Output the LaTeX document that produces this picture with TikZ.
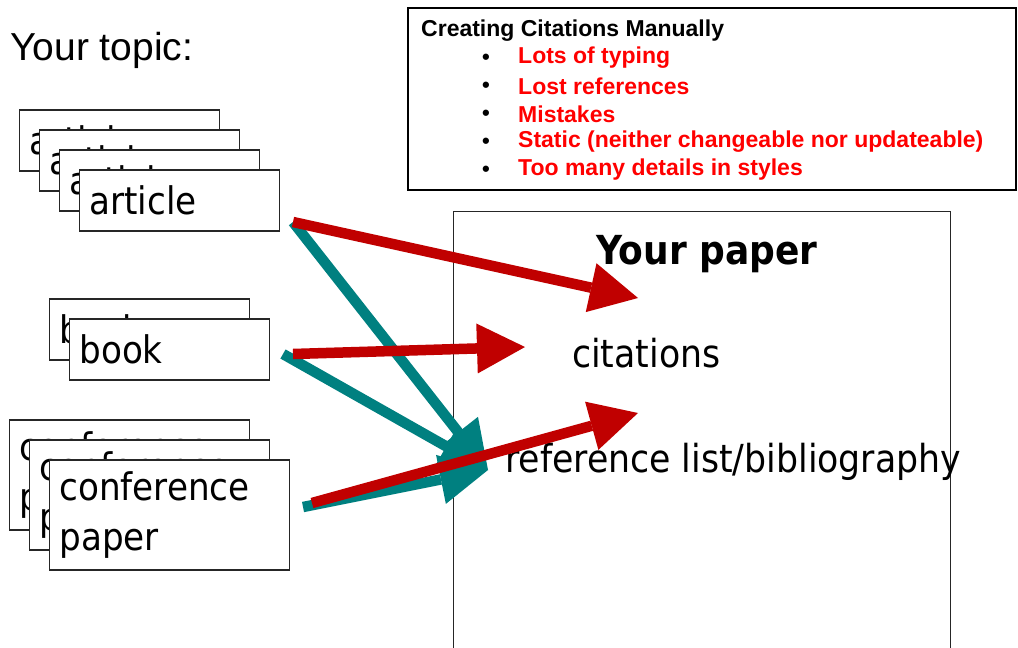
\documentclass[tikz,border=0pt]{standalone}
\usepackage{fontspec}
\setmainfont{Liberation Sans}
\newfontfamily\cardfont{DejaVu Sans Condensed}
\usetikzlibrary{arrows.meta}
\definecolor{arrowred}{RGB}{192,0,0}
\definecolor{arrowteal}{RGB}{0,128,128}
\definecolor{listred}{RGB}{255,0,0}

\tikzset{
  card/.style={draw=black!85, line width=1.2pt, fill=white, text width=180pt,
    minimum height=61pt, inner xsep=10pt, inner ysep=0pt, align=left,
    font=\cardfont\fontsize{38}{50}\selectfont},
  confcard/.style={card, text width=220pt, minimum height=110pt},
  redarrow/.style={draw=arrowred, line width=10.5pt,
    -{Triangle[length=48pt,width=50pt,line width=0pt]}},
  tealarrow/.style={draw=arrowteal, line width=10.5pt,
    -{Triangle[length=48pt,width=50pt,line width=0pt]}},
  bigtext/.style={inner sep=0pt, font=\cardfont\fontsize{38.6}{48}\selectfont},
  listitem/.style={anchor=west, inner sep=0pt, text=listred,
    font=\bfseries\fontsize{23}{27}\selectfont}
}

\begin{document}
\begin{tikzpicture}[x=1pt,y=-1pt]
  \useasboundingbox (0,0) rectangle (1018,648);
  \node[anchor=west, inner sep=0pt, font=\fontsize{39}{46}\selectfont] (topic) at (10,50) {Your topic:};
  % stacks of sources
  \foreach \i in {0,...,3} \node[card] (art\i) at (119.5+20*\i,140.5+20*\i) {article};
  \foreach \i in {0,1} \node[card] (book\i) at (149.5+20*\i,329.5+20*\i) {book};
  \foreach \i in {0,1,2} \node[confcard] (conf\i) at (129.5+20*\i,475+20*\i) {conference\\paper};
  % manual citing box
  \node[draw, line width=2.5pt, minimum width=608pt, minimum height=182pt] (manual) at (712,99) {};
  \node[anchor=west, inner sep=0pt, font=\bfseries\fontsize{23}{27}\selectfont] (manualtitle) at (421,31) {Creating Citations Manually};
  \foreach \t [count=\i] in {Lots of typing, Lost references, Mistakes, Static (neither changeable nor updateable), Too many details in styles} {
    \node[inner sep=0pt, font=\bfseries\fontsize{22}{26}\selectfont] (dot\i) at (486,31+28*\i) {•};
    \node[listitem] (item\i) at (518,30+28*\i) {\t};
  }
  % the paper
  \node[draw=black!85, line width=1.2pt, minimum width=497pt, minimum height=460pt, anchor=north west] (paper) at (453,211) {};
  \node[bigtext, font=\cardfont\bfseries\fontsize{40}{48}\selectfont] (papertitle) at (707,254) {Your paper};
  \node[bigtext, anchor=west] (cit) at (572,353) {citations};
  \node[bigtext, anchor=west] (refl) at (505,462) {reference list/bibliography};
  % arrow ends
  \coordinate (artout) at (293,222);
  \coordinate (bookout) at (293,354);
  \coordinate (bookoutb) at (283,354);
  \coordinate (confout) at (312,503);
  \coordinate (confoutb) at (303,507);
  \coordinate (titlein) at (638,298);
  \coordinate (citin) at (525,347);
  \coordinate (refin) at (638,413);
  \coordinate (bibin) at (488,470);
  \draw[tealarrow] (artout) -- (bibin);
  \draw[tealarrow] (bookoutb) -- (bibin);
  \draw[tealarrow] (confoutb) -- (bibin);
  \draw[redarrow] (artout) -- (titlein);
  \draw[redarrow] (bookout) -- (citin);
  \draw[redarrow] (confout) -- (refin);
\end{tikzpicture}
\end{document}
